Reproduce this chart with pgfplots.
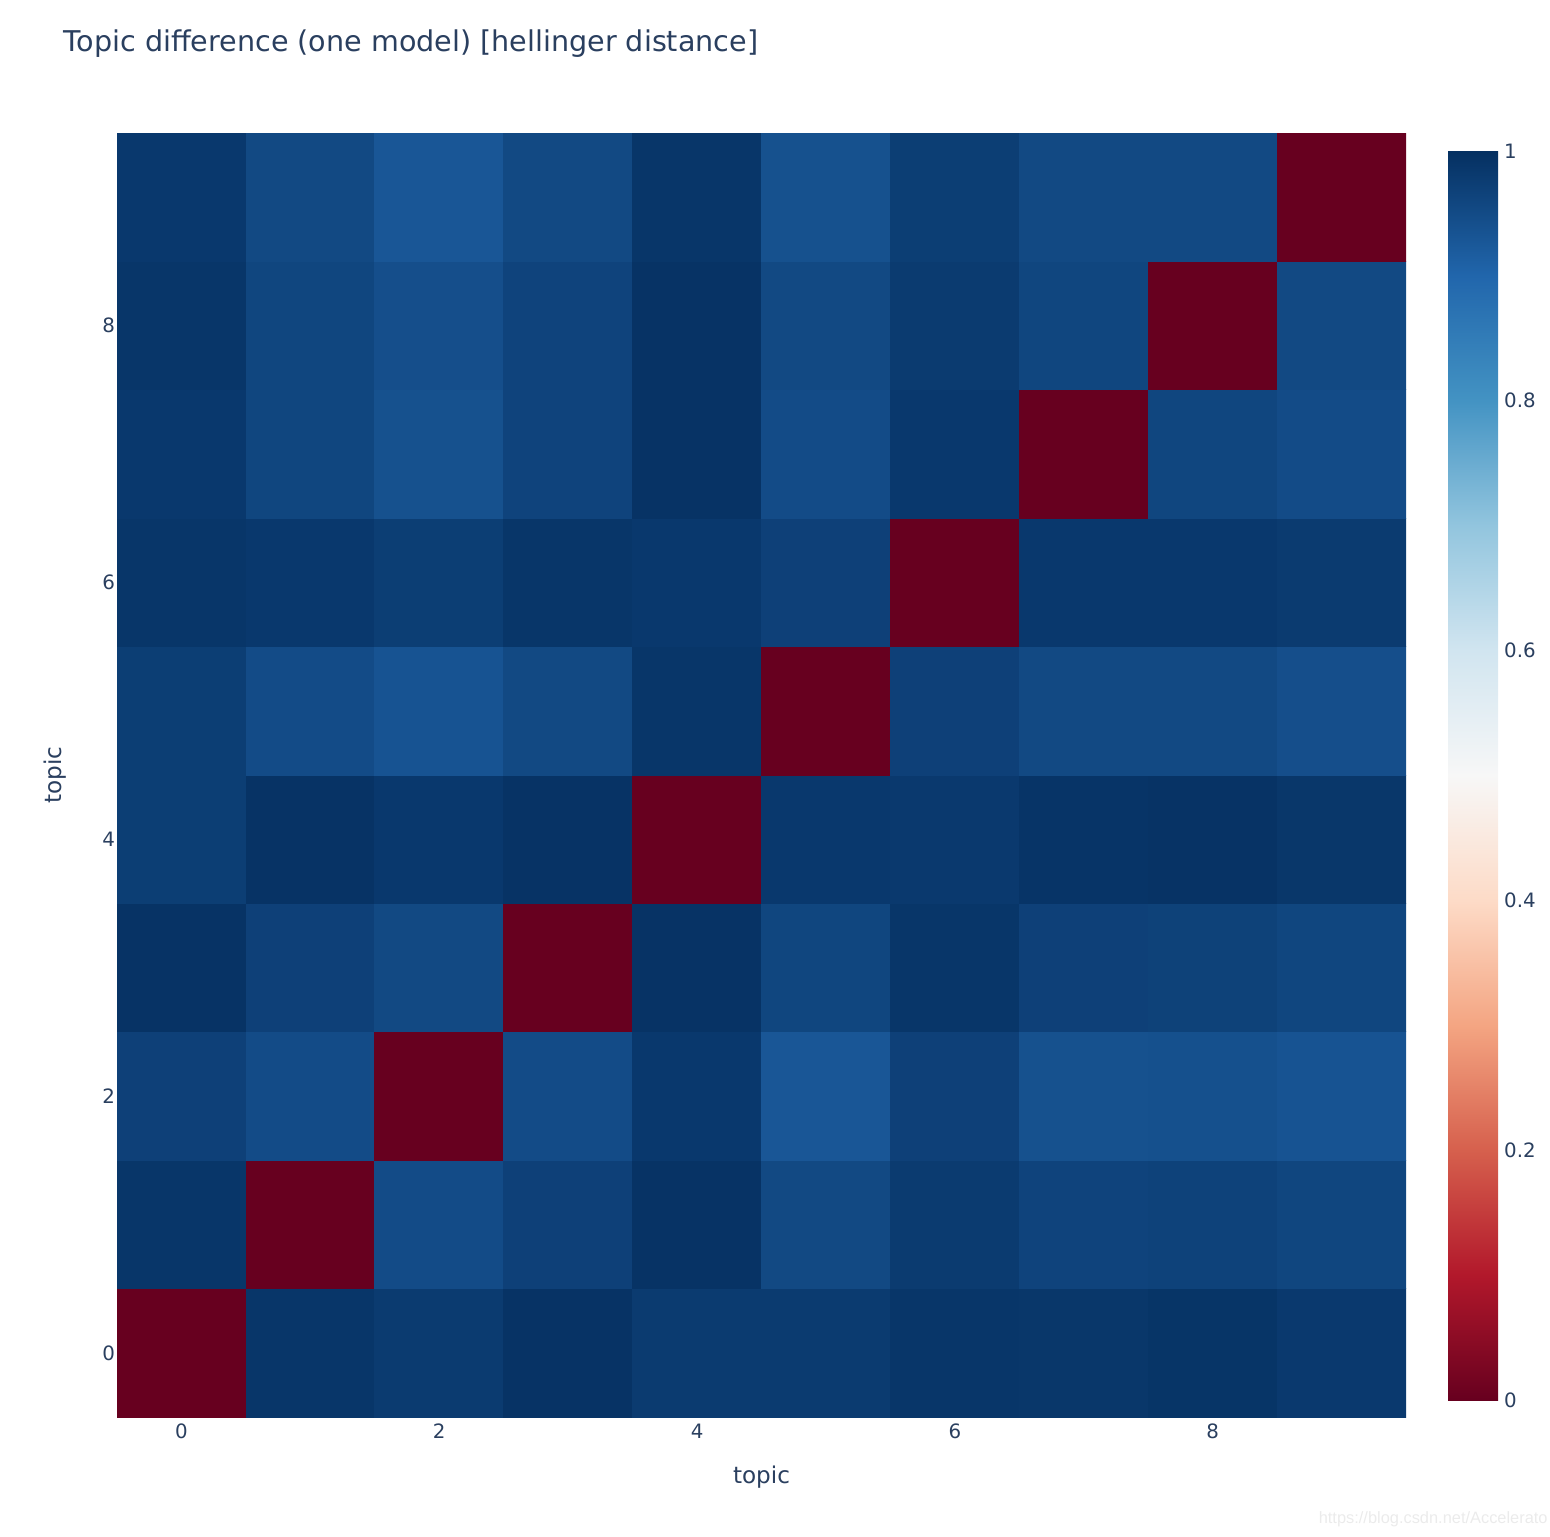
\documentclass[border=0pt]{standalone}
\usepackage{pgfplots}
\pgfplotsset{compat=1.18}
\usepackage{fontspec}
\setmainfont{DejaVu Sans}
\newfontfamily\wmfont{Liberation Sans}
\definecolor{plotlytext}{RGB}{42,63,95}

\pgfplotsset{
  colormap={rdbu}{rgb255=(103,0,31) rgb255=(178,24,43) rgb255=(214,96,77)
    rgb255=(244,165,130) rgb255=(253,219,199) rgb255=(247,247,247)
    rgb255=(209,229,240) rgb255=(146,197,222) rgb255=(67,147,195)
    rgb255=(33,102,172) rgb255=(5,48,97)},
}

% hellinger distance, x = topic (column), y = topic (row)
\pgfplotstableread{
x y z
0 0 0
1 0 0.990
2 0 0.980
3 0 0.995
4 0 0.980
5 0 0.980
6 0 0.990
7 0 0.988
8 0 0.992
9 0 0.983
0 1 0.990
1 1 0
2 1 0.950
3 1 0.970
4 1 0.995
5 1 0.955
6 1 0.980
7 1 0.965
8 1 0.967
9 1 0.960
0 2 0.970
1 2 0.950
2 2 0
3 2 0.950
4 2 0.985
5 2 0.930
6 2 0.970
7 2 0.940
8 2 0.942
9 2 0.935
0 3 0.995
1 3 0.970
2 3 0.955
3 3 0
4 3 0.995
5 3 0.960
6 3 0.990
7 3 0.970
8 3 0.968
9 3 0.960
0 4 0.975
1 4 0.995
2 4 0.985
3 4 0.995
4 4 0
5 4 0.985
6 4 0.983
7 4 0.993
8 4 0.995
9 4 0.988
0 5 0.975
1 5 0.950
2 5 0.935
3 5 0.955
4 5 0.990
5 5 0
6 5 0.970
7 5 0.955
8 5 0.955
9 5 0.945
0 6 0.990
1 6 0.985
2 6 0.975
3 6 0.990
4 6 0.985
5 6 0.970
6 6 0
7 6 0.985
8 6 0.985
9 6 0.980
0 7 0.985
1 7 0.960
2 7 0.940
3 7 0.965
4 7 0.995
5 7 0.950
6 7 0.985
7 7 0
8 7 0.960
9 7 0.950
0 8 0.990
1 8 0.960
2 8 0.945
3 8 0.965
4 8 0.995
5 8 0.955
6 8 0.980
7 8 0.960
8 8 0
9 8 0.955
0 9 0.985
1 9 0.955
2 9 0.930
3 9 0.955
4 9 0.990
5 9 0.940
6 9 0.975
7 9 0.955
8 9 0.955
9 9 0
}\hdist

\begin{document}
\begin{tikzpicture}
\path[use as bounding box] (0,0) rectangle (775pt,768pt);
\begin{axis}[
  at={(58.5pt,59.5pt)}, anchor=south west,
  width=644.5pt, height=642pt, scale only axis,
  xmin=-0.5, xmax=9.5, ymin=-0.5, ymax=9.5,
  xtick={0,2,4,6,8}, ytick={0,2,4,6,8},
  axis line style={draw=none},
  major tick length=0pt,
  tick label style={font=\fontsize{9.9}{12}\selectfont, text=plotlytext},
  /pgf/number format/assume math mode=true,
  yticklabel style={xshift=2.5pt},
  xlabel={topic}, ylabel={topic},
  label style={font=\fontsize{11.55}{14}\selectfont, text=plotlytext},
  xlabel style={at={(axis description cs:0.5,-0.0465)}, anchor=center},
  ylabel style={at={(axis description cs:-0.0481,0.5)}, anchor=center},
  title={Topic difference (one model) [hellinger distance]},
  title style={at={(axis description cs:-0.0466,1.0538)}, anchor=base west,
    font=\fontsize{14.3}{17}\selectfont, text=plotlytext},
  colormap name=rdbu,
  point meta min=0, point meta max=1,
  colorbar,
  colorbar/width=25pt,
  colorbar style={
    at={(parent axis.south east)}, anchor=south west,
    xshift=12.5pt, yshift=8.5pt,
    height=624.5pt, scale only axis,
    axis line style={draw=none},
    major tick length=0pt,
    ytick={0,0.2,0.4,0.6,0.8,1},
    yticklabel style={font=\fontsize{9.9}{12}\selectfont, text=plotlytext, xshift=-0.5pt},
    /pgf/number format/assume math mode=true,
  },
]
\addplot[matrix plot*, mesh/cols=10, point meta=explicit]
  table[x=x, y=y, meta=z] {\hdist};
\end{axis}
\node[anchor=base east, inner sep=0pt, text=black!8, font=\wmfont\fontsize{8.2}{10}\selectfont]
  at (774pt,6.5pt) {https://blog.csdn.net/Accelerato};
\end{tikzpicture}
\end{document}
